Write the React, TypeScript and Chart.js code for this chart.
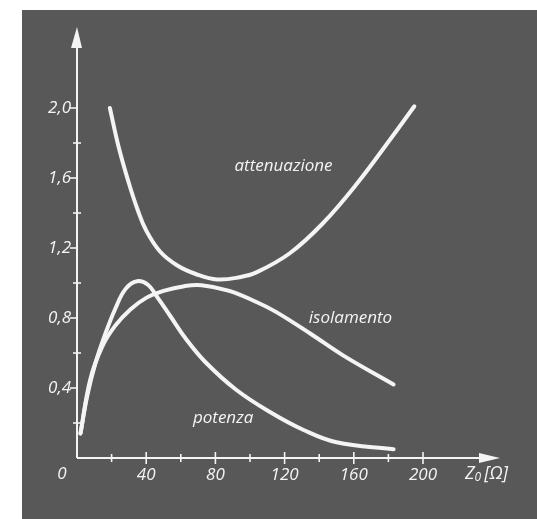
import React, { useEffect, useRef } from "react";
import { Chart, registerables } from "chart.js";

Chart.register(...registerables);

const attenX = [19, 24, 30, 35, 40, 48, 58, 69, 81, 94, 104, 123, 142, 162, 181, 195];
const attenY = [2.0, 1.78, 1.57, 1.42, 1.3, 1.18, 1.1, 1.05, 1.02, 1.033, 1.062, 1.17, 1.34, 1.57, 1.82, 2.01];

const isoX = [2, 7.7, 14.5, 22, 31, 40, 50, 62, 72, 88, 104, 115, 135, 154, 183];
const isoY = [0.14, 0.45, 0.635, 0.755, 0.85, 0.915, 0.955, 0.982, 0.987, 0.955, 0.89, 0.835, 0.71, 0.585, 0.42];

const potX = [2, 5.8, 10.6, 16.4, 22, 28, 34.7, 41, 46, 54, 63, 74, 92, 112, 131, 150, 183];
const potY = [0.14, 0.35, 0.54, 0.71, 0.85, 0.965, 1.01, 0.99, 0.925, 0.81, 0.68, 0.55, 0.39, 0.26, 0.16, 0.09, 0.05];

const xMajorTicks = [40, 80, 120, 160, 200];
const xMinorTicks = [20, 60, 100, 140, 180];
const yMajorTicks = [0.4, 0.8, 1.2, 1.6, 2.0];
const yMinorTicks = [0.2, 0.6, 1.0, 1.4, 1.8];

const seriesLabels = [
  { text: "attenuazione", x: 91, y: 1.67 },
  { text: "isolamento", x: 134, y: 0.8 },
  { text: "potenza", x: 67, y: 0.23 },
];

const FONT = "'Open Sans', 'DejaVu Sans', sans-serif";
const BG = "#585858";
const FG = "#f4f4f4";

const toPts = (xs: number[], ys: number[]) => xs.map((x, i) => ({ x, y: ys[i] }));

const decoPlugin = {
  id: "deco",
  beforeDraw(chart: any) {
    const ctx = chart.ctx;
    ctx.save();
    ctx.fillStyle = "#ffffff";
    ctx.fillRect(0, 0, chart.width, chart.height);
    ctx.fillStyle = BG;
    ctx.fillRect(22, 10, chart.width - 22, chart.height - 10);
    ctx.restore();
  },
  afterDraw(chart: any) {
    const ctx = chart.ctx;
    const xs = chart.scales.x;
    const ys = chart.scales.y;
    const x0 = xs.getPixelForValue(0);
    const y0 = ys.getPixelForValue(0);
    const area = chart.chartArea;
    ctx.save();
    ctx.strokeStyle = FG;
    ctx.fillStyle = FG;
    ctx.lineWidth = 2;
    // y axis
    const yTip = area.top - 81;
    ctx.beginPath();
    ctx.moveTo(x0, y0);
    ctx.lineTo(x0, yTip + 18);
    ctx.stroke();
    ctx.beginPath();
    ctx.moveTo(x0, yTip);
    ctx.lineTo(x0 - 6, yTip + 21);
    ctx.lineTo(x0 + 5, yTip + 21);
    ctx.closePath();
    ctx.fill();
    // x axis
    const xTip = area.right + 77;
    ctx.beginPath();
    ctx.moveTo(x0, y0);
    ctx.lineTo(xTip - 18, y0);
    ctx.stroke();
    ctx.beginPath();
    ctx.moveTo(xTip, y0);
    ctx.lineTo(xTip - 21, y0 - 5);
    ctx.lineTo(xTip - 21, y0 + 5);
    ctx.closePath();
    ctx.fill();
    // ticks
    ctx.lineWidth = 1.6;
    xMajorTicks.forEach((v) => {
      const p = xs.getPixelForValue(v);
      ctx.beginPath();
      ctx.moveTo(p, y0 - 6);
      ctx.lineTo(p, y0 + 6);
      ctx.stroke();
    });
    xMinorTicks.forEach((v) => {
      const p = xs.getPixelForValue(v);
      ctx.beginPath();
      ctx.moveTo(p, y0 - 4);
      ctx.lineTo(p, y0 + 4);
      ctx.stroke();
    });
    yMajorTicks.forEach((v) => {
      const p = ys.getPixelForValue(v);
      ctx.beginPath();
      ctx.moveTo(x0 - 7, p);
      ctx.lineTo(x0, p);
      ctx.stroke();
    });
    yMinorTicks.forEach((v) => {
      const p = ys.getPixelForValue(v);
      ctx.beginPath();
      ctx.moveTo(x0 - 4, p);
      ctx.lineTo(x0 + 4, p);
      ctx.stroke();
    });
    // origin label
    ctx.font = `italic 17px ${FONT}`;
    ctx.textAlign = "center";
    ctx.textBaseline = "middle";
    ctx.fillText("0", x0 - 15, y0 + 16);
    // series labels
    ctx.font = `italic 17px ${FONT}`;
    ctx.textAlign = "left";
    seriesLabels.forEach((l) => {
      ctx.fillText(l.text, xs.getPixelForValue(l.x), ys.getPixelForValue(l.y));
    });
    // axis title
    let tx = area.right + 42;
    const ty = y0 + 16;
    ctx.font = `italic 18px ${FONT}`;
    ctx.fillText("Z", tx, ty);
    tx += ctx.measureText("Z").width;
    ctx.font = `italic 12px ${FONT}`;
    ctx.fillText("0", tx, ty + 4);
    tx += ctx.measureText("0").width + 3;
    ctx.font = `italic 18px ${FONT}`;
    ctx.fillText("[Ω]", tx, ty);
    ctx.restore();
  },
};

export default function App() {
  const ref = useRef<HTMLCanvasElement>(null);
  useEffect(() => {
    if (!ref.current) return;
    const lineDs = (xs: number[], ys: number[]) => ({
      data: toPts(xs, ys),
      borderColor: FG,
      borderWidth: 4,
      pointRadius: 0,
      tension: 0.4,
      borderCapStyle: "round" as const,
      borderJoinStyle: "round" as const,
      clip: false as any,
    });
    const chart = new Chart(ref.current, {
      type: "line",
      data: {
        datasets: [lineDs(attenX, attenY), lineDs(isoX, isoY), lineDs(potX, potY)],
      },
      options: {
        animation: false,
        responsive: false,
        layout: { padding: { top: 108, right: 114, left: 0, bottom: 0 } },
        plugins: { legend: { display: false }, tooltip: { enabled: false } },
        scales: {
          x: {
            type: "linear",
            min: 0,
            max: 200,
            grid: { display: false, drawTicks: false },
            border: { display: false },
            ticks: {
              stepSize: 40,
              color: FG,
              padding: 7,
              maxRotation: 0,
              autoSkip: false,
              font: { family: FONT, size: 17, style: "italic" },
              callback: (v: any) => (v === 0 ? "" : String(v)),
            },
            afterFit: (s: any) => {
              s.height = 61;
            },
          },
          y: {
            type: "linear",
            min: 0,
            max: 2.0,
            grid: { display: false, drawTicks: false },
            border: { display: false },
            ticks: {
              stepSize: 0.4,
              color: FG,
              padding: 6,
              autoSkip: false,
              font: { family: FONT, size: 17, style: "italic" },
              callback: (v: any) => (v === 0 ? "" : Number(v).toFixed(1).replace(".", ",")),
            },
            afterFit: (s: any) => {
              s.width = 77;
            },
          },
        },
      },
      plugins: [decoPlugin],
    });
    return () => chart.destroy();
  }, []);
  return (
    <div style={{ position: "fixed", left: 0, top: 0, width: 537, height: 519 }}>
      <canvas ref={ref} width={537} height={519} style={{ display: "block", width: 537, height: 519 }} />
    </div>
  );
}
